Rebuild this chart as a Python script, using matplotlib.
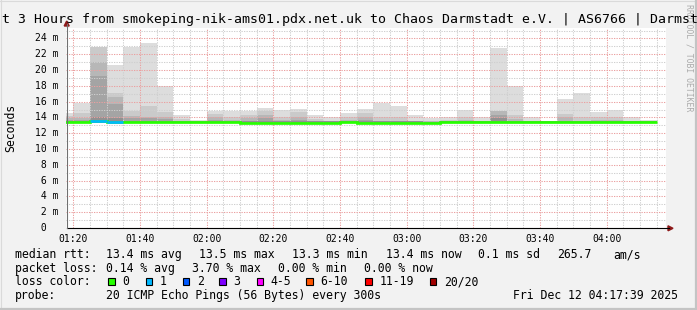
import matplotlib
matplotlib.use("Agg")
import matplotlib.pyplot as plt
import matplotlib.transforms as mtransforms
from matplotlib.ticker import MultipleLocator, FuncFormatter
from matplotlib.lines import Line2D
from matplotlib.patches import Rectangle, Polygon
import numpy as np

W, H, DPI = 697, 310, 100

# ---------------- data (milliseconds) ----------------
bin_start = ["01:15", "01:20", "01:25", "01:30", "01:35", "01:40", "01:45", "01:50", "01:55",
             "02:00", "02:05", "02:10", "02:15", "02:20", "02:25", "02:30", "02:35", "02:40",
             "02:45", "02:50", "02:55", "03:00", "03:05", "03:10", "03:15", "03:20", "03:25",
             "03:30", "03:35", "03:40", "03:45", "03:50", "03:55", "04:00", "04:05", "04:10"]
bin_minutes = 5

# smoke bands: upper edge of each band, outermost (lightest) to innermost (darkest)
smoke_1 = [14.6, 15.8, 22.9, 20.6, 22.87, 23.37, 18.0, 14.3, 13.7, 14.8, 14.8, 14.8,
           15.2, 14.9, 15.05, 14.3, 14.1, 14.55, 15.05, 15.8, 15.47, 14.3, 13.9, 14.1,
           14.97, 14.05, 22.78, 18.0, 14.05, 13.5, 16.3, 17.07, 14.63, 14.97, 14.05, 13.7]
smoke_2 = [14.2, 14.55, 22.9, 17.07, 14.8, 15.47, 14.67, 13.8, 13.6, 14.46, 14.0, 14.3,
           14.8, 14.0, 14.63, 13.8, 13.6, 14.0, 14.6, 14.0, 14.0, 13.6, 13.5, 13.7,
           14.0, 13.6, 14.83, 14.3, 13.6, 13.5, 14.45, 14.1, 14.0, 14.05, 13.6, 13.5]
smoke_3 = [13.9, 13.95, 21.0, 16.56, 14.2, 14.1, 14.0, 13.6, 13.5, 14.0, 13.7, 13.9,
           14.3, 13.7, 14.1, 13.6, 13.5, 13.7, 14.0, 13.6, 13.6, 13.5, 13.5, 13.5,
           13.7, 13.5, 14.83, 13.8, 13.5, 13.5, 14.0, 13.6, 13.7, 13.7, 13.5, 13.5]
smoke_4 = [13.7, 13.7, 19.25, 15.68, 13.9, 13.9, 13.8, 13.5, 13.5, 13.7, 13.6, 13.6,
           13.9, 13.5, 13.7, 13.5, 13.5, 13.5, 13.7, 13.5, 13.5, 13.5, 13.4, 13.5,
           13.5, 13.5, 14.3, 13.6, 13.5, 13.5, 13.6, 13.5, 13.5, 13.5, 13.5, 13.5]
smoke_5 = [13.55, 13.55, 14.1, 13.9, 13.6, 13.6, 13.55, 13.5, 13.5, 13.55, 13.5, 13.55,
           13.6, 13.5, 13.55, 13.5, 13.55, 13.5, 13.55, 13.5, 13.5, 13.5, 13.4, 13.5,
           13.5, 13.5, 13.9, 13.5, 13.5, 13.5, 13.5, 13.5, 13.5, 13.5, 13.5, 13.5]
smoke_floor = 13.3

median_rtt = [13.42, 13.42, 13.55, 13.45, 13.42, 13.42, 13.42, 13.42, 13.42, 13.42, 13.42, 13.35,
              13.35, 13.35, 13.35, 13.35, 13.35, 13.42, 13.3, 13.3, 13.3, 13.3, 13.3, 13.45,
              13.45, 13.45, 13.45, 13.45, 13.45, 13.45, 13.45, 13.45, 13.45, 13.45, 13.45, 13.45]
loss_idx = [0, 0, 1, 1, 0, 0, 0, 0, 0, 0, 0, 0, 0, 0, 0, 0, 0, 0,
            0, 0, 0, 0, 0, 0, 0, 0, 0, 0, 0, 0, 0, 0, 0, 0, 0, 0]

loss_labels = ["0", "1", "2", "3", "4-5", "6-10", "11-19", "20/20"]
loss_colors = ["#26ff00", "#00b8ff", "#0059ff", "#7e00ff", "#ff00ff", "#ff5500", "#ff0000", "#a10000"]
smoke_colors = ["#dddddd", "#cacaca", "#b7b7b7", "#a4a4a4", "#919191"]

view_start, view_end = "01:17:39", "04:17:39"
y_max = 25.32

title = "t 3 Hours from smokeping-nik-ams01.pdx.net.uk to Chaos Darmstadt e.V. | AS6766 | Darmst"
row_rtt = [("median rtt:", 15.7), ("13.4 ms avg", 107.3), ("13.5 ms max", 200.0),
           ("13.3 ms min", 292.3), ("13.4 ms now", 386.3), ("0.1 ms sd", 479.0),
           ("265.7", 558.0), ("am/s", 613.7)]
row_loss = [("packet loss:", 15.7), ("0.14 % avg", 107.3), ("3.70 % max", 193.3),
            ("0.00 % min", 279.0), ("0.00 % now", 365.3)]
row_probe = [("probe:", 15.7), ("20 ICMP Echo Pings (56 Bytes) every 300s", 107.3),
             ("Fri Dec 12 04:17:39 2025", 513.7)]
legend_box_x = [108.3, 145.7, 182.7, 219.3, 256.7, 306.0, 365.3, 429.7]


def to_min(s):
    p = [int(v) for v in s.split(":")]
    while len(p) < 3:
        p.append(0)
    return p[0] * 60 + p[1] + p[2] / 60.0


# ---------------- figure ----------------
MONO = "DejaVu Sans Mono"
BG = "#f2f2f2"
fig = plt.figure(figsize=(W / DPI, H / DPI), dpi=DPI, facecolor=BG)


def fx(x):
    return x / W


def fy(y):
    return 1 - y / H


left_px, right_px, top_px, bot_px = 65.5, 665.5, 28.0, 228.0
ax = fig.add_axes([fx(left_px), fy(bot_px), (right_px - left_px) / W, (bot_px - top_px) / H])
ax.set_facecolor("white")
for s in ax.spines.values():
    s.set_visible(False)

x0 = np.array([to_min(s) for s in bin_start])
x_end = x0 + bin_minutes

levels = [smoke_1, smoke_2, smoke_3, smoke_4, smoke_5]
for lev, col in zip(levels, smoke_colors):
    lev = np.array(lev)
    ax.bar(x0, lev - smoke_floor, width=bin_minutes, bottom=smoke_floor, align="edge",
           color=col, linewidth=0, zorder=1)

med = np.array(median_rtt)
edges = np.append(x0, x_end[-1])
ax.stairs(med, edges, color=loss_colors[0], linewidth=1.95, zorder=3, baseline=None)
for i, li in enumerate(loss_idx):
    if li > 0:
        ax.hlines(med[i], x0[i], x_end[i], color=loss_colors[li], linewidth=1.95, zorder=4)

ax.set_xlim(to_min(view_start), to_min(view_end))
ax.set_ylim(0, y_max)

ax.xaxis.set_major_locator(MultipleLocator(20))
ax.xaxis.set_minor_locator(MultipleLocator(5))
ax.yaxis.set_major_locator(MultipleLocator(2))
ax.yaxis.set_minor_locator(MultipleLocator(1))
ax.set_axisbelow(False)
ax.grid(which="minor", color="#cfcfcf", linestyle=(0, (1.2, 1.2)), linewidth=0.75)
ax.grid(which="major", color="#eba0a0", linestyle=(0, (1.2, 1.2)), linewidth=0.75)

ax.xaxis.set_major_formatter(FuncFormatter(lambda v, p: "%02d:%02d" % (int(v) // 60, int(v) % 60)))
ax.tick_params(axis="x", which="both", length=0, pad=4.5, labelsize=7)
for lab in ax.get_xticklabels():
    lab.set_family(MONO)
ax.tick_params(axis="y", which="both", length=0, labelleft=False)

# y tick labels (left aligned, monospace)
ytr = mtransforms.blended_transform_factory(fig.transFigure, ax.transData)
for v in ax.yaxis.get_majorticklocs():
    if 0 <= v <= y_max:
        txt = "%2d m" % v if v > 0 else " 0"
        ax.text(fx(35.3), v, txt, transform=ytr, ha="left", va="center",
                family=MONO, fontsize=7, clip_on=False)

# y label
fig.text(fx(10.5), fy(128), "Seconds", rotation=90, ha="center", va="center",
         family=MONO, fontsize=8.3)

# axis lines and arrows
fig.add_artist(Line2D([fx(66.5), fx(669)], [fy(228.3), fy(228.3)], color="black", lw=0.8))
fig.add_artist(Line2D([fx(66.7), fx(66.7)], [fy(228.3), fy(24)], color="#707070", lw=0.8))
ARROW = "#8e1a1a"
fig.add_artist(Polygon([[fx(668), fy(225.8)], [fx(668), fy(230.8)], [fx(673), fy(228.3)]],
                       closed=True, color=ARROW, transform=fig.transFigure))
fig.add_artist(Polygon([[fx(64.2), fy(26)], [fx(69.2), fy(26)], [fx(66.7), fy(21)]],
                       closed=True, color=ARROW, transform=fig.transFigure))

# watermark
fig.text(fx(688.5), fy(4), "RRDTOOL / TOBI OETIKER", rotation=-90, ha="center", va="top",
         family=MONO, fontsize=5.9, color="#ababab")

# title
fig.text(fx(1.8), fy(23.5), title, ha="left", va="baseline", family=MONO, fontsize=9.5,
         color="black")

# legend rows
row_base = [258.0, 271.6, 285.2, 298.9]
for txt, x in row_rtt:
    fig.text(fx(x - 0.8), fy(row_base[0]), txt, ha="left", va="baseline", family=MONO, fontsize=8.3)
for txt, x in row_loss:
    fig.text(fx(x - 0.8), fy(row_base[1]), txt, ha="left", va="baseline", family=MONO, fontsize=8.3)
fig.text(fx(15.7 - 0.8), fy(row_base[2]), "loss color:", ha="left", va="baseline",
         family=MONO, fontsize=8.3)
for lab, col, bx in zip(loss_labels, loss_colors, legend_box_x):
    fig.add_artist(Rectangle((fx(bx), fy(row_base[2])), 6.6 / W, 6.8 / H, facecolor=col,
                             edgecolor="black", lw=0.8, transform=fig.transFigure))
    fig.text(fx(bx + 14.2), fy(row_base[2]), lab, ha="left", va="baseline", family=MONO,
             fontsize=8.3)
for txt, x in row_probe:
    fig.text(fx(x - 0.8), fy(row_base[3]), txt, ha="left", va="baseline", family=MONO, fontsize=8.3)

# frame shading
fig.add_artist(Line2D([0, 1], [fy(0.5), fy(0.5)], color="#dadada", lw=0.8))
fig.add_artist(Line2D([fx(0.5), fx(0.5)], [0, 1], color="#dadada", lw=0.8))
fig.add_artist(Line2D([0, 1], [fy(H - 1), fy(H - 1)], color="#c4c4c4", lw=1.6))
fig.add_artist(Line2D([fx(W - 1), fx(W - 1)], [0, 1], color="#c4c4c4", lw=1.6))

fig.savefig("out.png", dpi=DPI, facecolor=BG)
